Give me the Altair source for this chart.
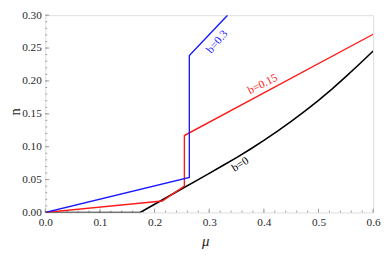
import altair as alt
import pandas as pd

# Curve data
black_mu = [0.0, 0.1735, 0.2, 0.225, 0.25, 0.275, 0.3, 0.325, 0.35, 0.375, 0.4,
            0.425, 0.45, 0.475, 0.5, 0.525, 0.55, 0.575, 0.6]
black_n = [0.0, 0.0, 0.0125, 0.0242, 0.036, 0.0477, 0.0595, 0.0714, 0.0835, 0.0962, 0.1095,
           0.1237, 0.1385, 0.1542, 0.1705, 0.188, 0.2065, 0.2258, 0.2455]

red_mu = [0.0, 0.214, 0.2545, 0.2545, 0.6]
red_n = [0.0, 0.0175, 0.040, 0.117, 0.271]

blue_mu = [0.0, 0.2636, 0.2636, 0.3336]
blue_n = [0.0, 0.0532, 0.2387, 0.30]

label_text = ["b=0.3", "b=0.15", "b=0"]
label_mu = [0.315, 0.398, 0.357]
label_n = [0.259, 0.1945, 0.0725]
label_angle = [310, 333, 328]
label_color = ["#1a1aff", "#ff1a1a", "#000000"]
label_halo = [False, False, True]

x_major = [0.0, 0.1, 0.2, 0.3, 0.4, 0.5, 0.6]
x_minor = [round(i * 0.02, 2) for i in range(31)]
y_major = [0.0, 0.05, 0.10, 0.15, 0.20, 0.25, 0.30]
y_minor = [round(i * 0.01, 2) for i in range(31)]

W, H = 334, 201
SERIF = "Liberation Serif"
GRAY = "#a0a0a0"

xs = alt.Scale(domain=[0, 0.6], nice=False, zero=False)
ys = alt.Scale(domain=[0, 0.3], nice=False, zero=False)

x_axis = alt.Axis(values=x_major, format=".1f", ticks=False, domain=False, grid=False,
                  labelFont=SERIF, labelFontSize=11.5, labelColor="#2a2a2a",
                  labelPadding=4, labelFlush=False, labelOverlap=False,
                  title="μ", titleFont=SERIF, titleFontSize=15,
                  titleFontStyle="italic", titleFontWeight="normal", titleColor="#222222",
                  titleX=163, titleY=29, titleBaseline="middle")
y_axis = alt.Axis(values=y_major, format=".2f", ticks=False, domain=False, grid=False,
                  labelFont=SERIF, labelFontSize=11.5, labelColor="#2a2a2a",
                  labelPadding=4, labelFlush=False, labelOverlap=False,
                  title="n", titleFont=SERIF, titleFontSize=15,
                  titleFontWeight="normal", titleColor="#222222",
                  titleAngle=-90, titleX=-31, titleY=98,
                  titleBaseline="middle", titleAlign="center")

def X(f):
    return alt.X(f, scale=xs, axis=x_axis, title="μ")

def Y(f):
    return alt.Y(f, scale=ys, axis=y_axis, title="n")

def line_df(mu, n):
    return pd.DataFrame({"mu": mu, "n": n, "i": list(range(len(mu)))})

black = alt.Chart(line_df(black_mu, black_n)).mark_line(
    color="black", strokeWidth=1.6, clip=True
).encode(x=X("mu:Q"), y=Y("n:Q"), order="i:Q")

red = alt.Chart(line_df(red_mu, red_n)).mark_line(
    color="#ff1a1a", strokeWidth=1.4, clip=True
).encode(x=X("mu:Q"), y=Y("n:Q"), order="i:Q")

blue = alt.Chart(line_df(blue_mu, blue_n)).mark_line(
    color="#1a1aff", strokeWidth=1.4, clip=True
).encode(x=X("mu:Q"), y=Y("n:Q"), order="i:Q")

# Tick rules (inward ticks)
xmaj = alt.Chart(pd.DataFrame({"mu": x_major})).mark_rule(color=GRAY, strokeWidth=1).encode(
    x=X("mu:Q"), y=alt.value(H), y2=alt.value(H - 4))
xmin = alt.Chart(pd.DataFrame({"mu": x_minor})).mark_rule(color=GRAY, strokeWidth=1).encode(
    x=X("mu:Q"), y=alt.value(H), y2=alt.value(H - 2))
ymaj = alt.Chart(pd.DataFrame({"n": y_major})).mark_rule(color=GRAY, strokeWidth=1).encode(
    y=Y("n:Q"), x=alt.value(0), x2=alt.value(4))
ymin = alt.Chart(pd.DataFrame({"n": y_minor})).mark_rule(color=GRAY, strokeWidth=1).encode(
    y=Y("n:Q"), x=alt.value(0), x2=alt.value(2))

labels_df = pd.DataFrame({"t": label_text, "mu": label_mu, "n": label_n,
                          "a": label_angle, "c": label_color, "h": label_halo})
halo = alt.Chart(labels_df).transform_filter("datum.h").mark_text(
    font=SERIF, fontSize=11.5, stroke="white", strokeWidth=3, fill="white"
).encode(x=X("mu:Q"), y=Y("n:Q"), text="t:N",
         angle=alt.Angle("a:Q", scale=None))
labels = alt.Chart(labels_df).mark_text(font=SERIF, fontSize=11.5).encode(
    x=X("mu:Q"), y=Y("n:Q"), text="t:N",
    angle=alt.Angle("a:Q", scale=None), color=alt.Color("c:N", scale=None))

chart = alt.layer(
    xmin, xmaj, ymin, ymaj, black, red, blue, halo, labels
).properties(
    width=W, height=H,
    autosize=alt.AutoSizeParams(type="none"),
    padding={"left": 38, "top": 5, "right": 9, "bottom": 40},
).configure_view(stroke=GRAY, strokeWidth=1).configure(background="white")

chart.save("out.html", embed_options={"renderer": "svg", "actions": False})
